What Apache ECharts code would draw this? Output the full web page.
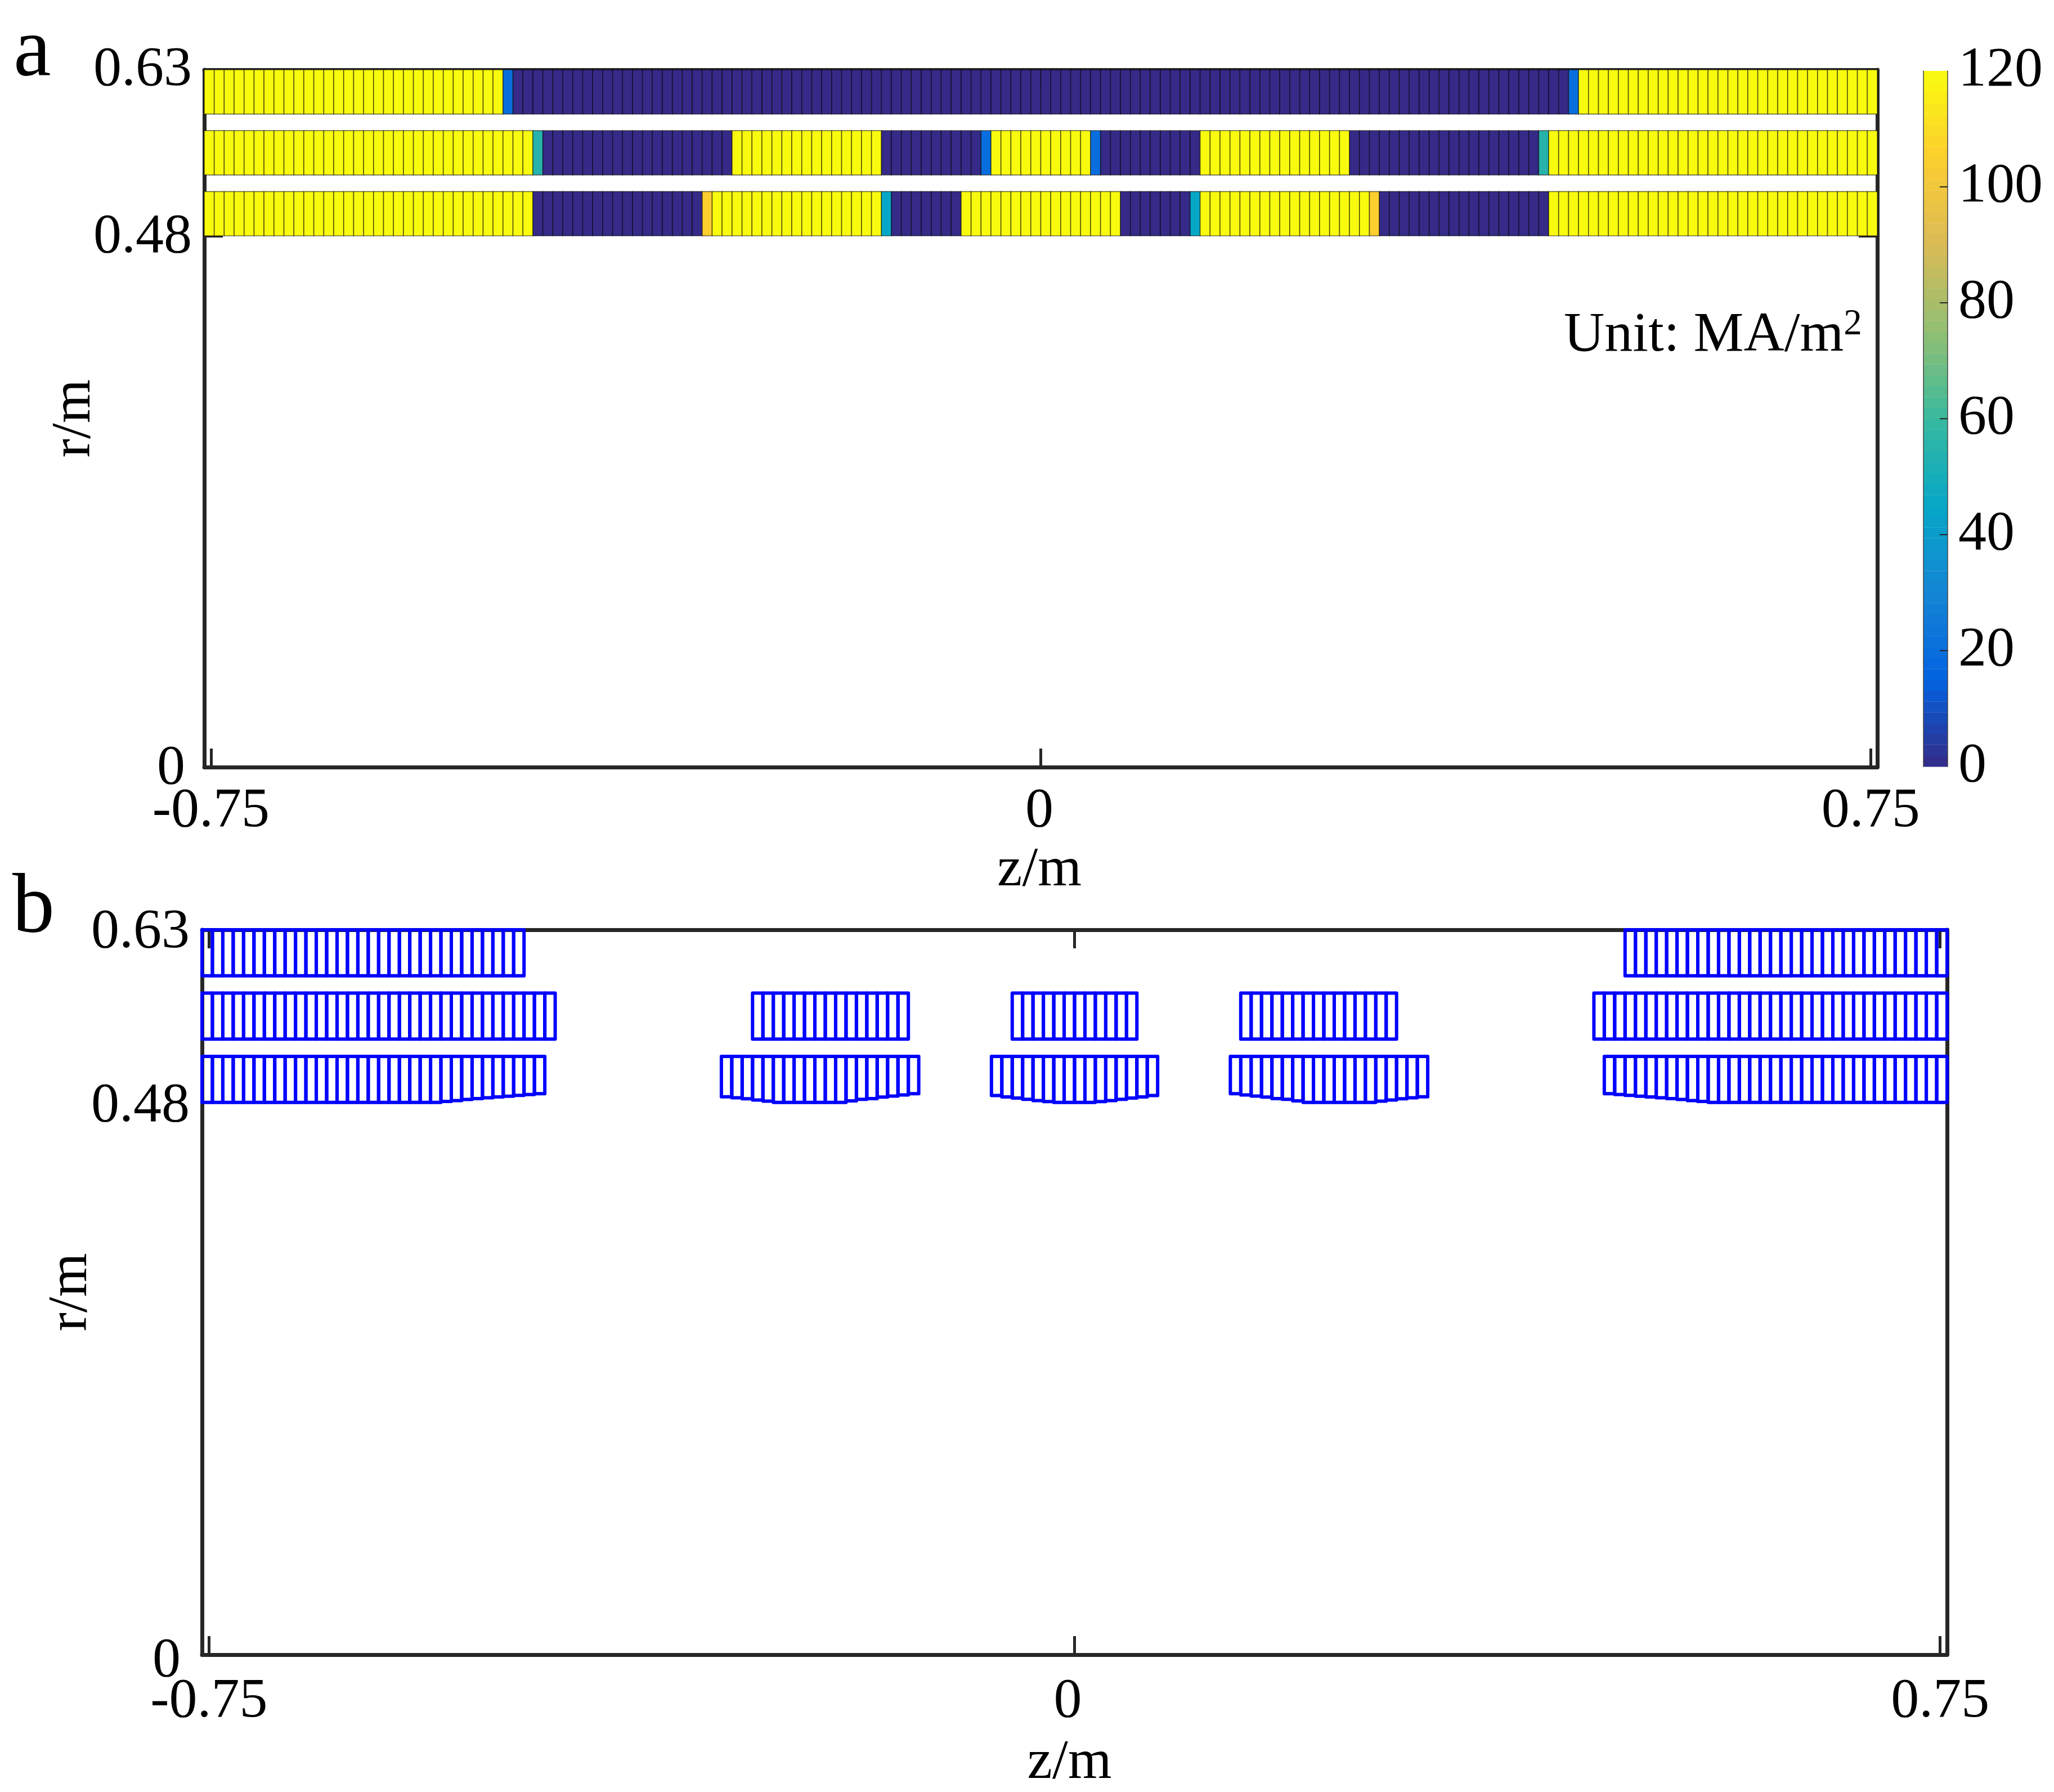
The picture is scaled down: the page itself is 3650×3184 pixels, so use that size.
<!DOCTYPE html>
<html><head><meta charset="utf-8">
<style>html,body{margin:0;padding:0;background:#fff}#c{width:3650px;height:3184px}</style>
<script src="https://cdn.jsdelivr.net/npm/echarts@6/dist/echarts.min.js"></script>
</head><body><div id="c"></div>
<script>
// Current density per conductor cell, as runs of [value, cell count], z from -0.756 m, 0.009 m per cell
var row1Runs=[[120,30],[20,1],[0,106],[20,1],[120,30]];
var row2Runs=[[120,33],[55,1],[0,19],[120,15],[0,10],[20,1],[120,10],[20,1],[0,10],[120,15],[0,19],[55,1],[120,33]];
var row3Runs=[[120,33],[0,17],[105,1],[120,17],[45,1],[0,7],[120,16],[0,7],[45,1],[120,17],[105,1],[0,17],[120,33]];
var rowTop=[0.63,0.575,0.52];
var rowBottom=[0.59,0.535,0.48];
var cellWidth=0.009, zLimit=0.756;
// Row 3 cells whose lower edge is raised, in metres above the row bottom: [cell, raise]
var row3Taper=[[23,.0008],[24,.0016],[25,.0025],[26,.0033],[27,.0040],[28,.0047],[29,.0054],[30,.0061],[31,.0068],[32,.0076],
[50,.0049],[51,.0040],[52,.0031],[53,.0020],[54,.0011],[62,.0013],[63,.0026],[64,.0033],[65,.0046],[66,.0055],[67,.0065],[68,.0076],
[76,.0059],[77,.0047],[78,.0037],[79,.0026],[80,.0016],[81,.0007],[86,.0007],[87,.0016],[88,.0026],[89,.0037],[90,.0047],[91,.0059],
[99,.0076],[100,.0065],[101,.0055],[102,.0046],[103,.0033],[104,.0026],[105,.0013],[113,.0011],[114,.0020],[115,.0031],[116,.0040],[117,.0049],
[135,.0076],[136,.0068],[137,.0061],[138,.0054],[139,.0047],[140,.0040],[141,.0033],[142,.0025],[143,.0016],[144,.0008]];
var zTicks=[-0.75,0,0.75], rTicks=[0,0.48,0.63], barTickMarks=[20,40,60,80,100];
var parula=['#352A87','#0363E1','#1485D4','#06A7C6','#38B99E','#92BF73','#D9BA56','#FCCE2E','#F9FB0E'];
var colorLevels=64;

var FONT='Liberation Serif', INK='#262626';
var taper={}; row3Taper.forEach(function(t){taper[t[0]]=t[1]});
var densityCells=[], coilCells=[];
[row1Runs,row2Runs,row3Runs].forEach(function(runs,row){
  var i=0;
  runs.forEach(function(run){
    for(var k=0;k<run[1];k++,i++){
      var z0=-zLimit+i*cellWidth, z1=z0+cellWidth;
      densityCells.push([z0,z1,rowBottom[row],rowTop[row],run[0]]);
      if(run[0]>0){
        var raise=(row===2&&taper[i])?taper[i]:0;
        coilCells.push([z0,z1,rowBottom[row]+raise,rowTop[row]]);
      }
    }
  });
});
var bands=[];
for(var b=0;b<colorLevels;b++){bands.push([120*b/colorLevels,120*(b+1)/colorLevels,120*(b+.5)/colorLevels]);}

function cellPoints(api){
  return [api.coord([api.value(0),api.value(2)]),api.coord([api.value(1),api.value(2)]),
          api.coord([api.value(1),api.value(3)]),api.coord([api.value(0),api.value(3)])];
}
function lbl(top,right){return {fontFamily:FONT,fontSize:100,color:'#000',padding:[top,right,0,0]};}
function makeX(grid,pos,labelled,name,gap,margin,zeroPad,namePad){
  var o={type:'value',gridIndex:grid,position:pos,min:-zLimit,max:zLimit,splitLine:{show:false},
    axisLine:{show:true,onZero:false,lineStyle:{color:INK,width:7}},
    axisTick:{show:true,inside:true,length:33,customValues:zTicks,lineStyle:{color:INK,width:5}},
    axisLabel:{show:labelled,customValues:zTicks,margin:margin,fontFamily:FONT,fontSize:100,color:'#000',
      rich:{zero:lbl(0,zeroPad)},
      formatter:function(v){return v===0?'{zero|0}':String(v)}}};
  if(name){o.name=name;o.nameLocation='middle';o.nameGap=gap;
    o.nameTextStyle={fontFamily:FONT,fontSize:100,color:'#000',padding:[0,namePad,0,0]};}
  return o;
}
function makeY(grid,pos,labelled,name,gap,pads){
  var o={type:'value',gridIndex:grid,position:pos,min:0,max:0.63,splitLine:{show:false},
    axisLine:{show:true,onZero:false,lineStyle:{color:INK,width:7}},
    axisTick:{show:true,inside:true,length:33,customValues:rTicks,lineStyle:{color:INK,width:5}},
    axisLabel:{show:labelled,customValues:rTicks,margin:22,fontFamily:FONT,fontSize:100,color:'#000',
      rich:pads?{zero:lbl(pads[0][0],pads[0][1]),mid:lbl(pads[1],0),top:lbl(pads[2],0)}:{},
      formatter:function(v){return v===0?'{zero|0}':v===0.48?'{mid|0.48}':'{top|0.63}'}}};
  if(name){o.name=name;o.nameLocation='middle';o.nameGap=gap;o.nameRotate=90;o.nameMoveOverlap=false;
    o.nameTextStyle={fontFamily:FONT,fontSize:100,color:'#000'};}
  return o;
}
var chart=echarts.init(document.getElementById('c'),null,{renderer:'canvas'});
chart.setOption({
  animation:false,
  backgroundColor:'#fff',
  grid:[
    {left:363,top:124,width:2973,height:1239},
    {left:359,top:1652,width:3101,height:1291},
    {left:3418,top:126,width:43,height:1236}
  ],
  xAxis:[
    makeX(0,'bottom',true,'z/m',134,29,5,5),makeX(0,'top',false),
    makeX(1,'bottom',true,'z/m',143,34,24,18),makeX(1,'top',false),
    {type:'value',gridIndex:2,min:0,max:1,show:false}
  ],
  yAxis:[
    makeY(0,'left',true,'r/m',180,[[5,12],5,2]),makeY(0,'right',false),
    makeY(1,'left',true,'r/m',182,[[24,16],14,10]),makeY(1,'right',false),
    {type:'value',gridIndex:2,position:'right',min:0,max:120,interval:20,z:5,splitLine:{show:false},
      axisLine:{show:true,onZero:false,lineStyle:{color:'#444',width:1.5}},
      axisTick:{show:true,inside:true,length:14,customValues:barTickMarks,lineStyle:{color:INK,width:2}},
      axisLabel:{margin:19,fontFamily:FONT,fontSize:100,color:'#000'}},
    {type:'value',gridIndex:2,position:'left',min:0,max:120,z:5,splitLine:{show:false},
      axisLine:{show:true,onZero:false,lineStyle:{color:'#444',width:1.5}},
      axisTick:{show:false},axisLabel:{show:false}}
  ],
  visualMap:[
    {type:'continuous',show:false,min:0,max:120,dimension:4,seriesIndex:0,inRange:{color:parula}},
    {type:'continuous',show:false,min:0,max:120,dimension:2,seriesIndex:2,inRange:{color:parula}}
  ],
  graphic:[
    {type:'text',left:24,top:20,style:{text:'a',fontFamily:FONT,fontSize:150,fill:'#000'}},
    {type:'text',left:22,top:1542,style:{text:'b',fontFamily:FONT,fontSize:150,fill:'#000'}},
    {type:'text',left:2779,top:544,style:{
      text:'{t|Unit: MA/m}{s|2}',
      rich:{t:{fontFamily:FONT,fontSize:100,fill:'#000',color:'#000'},
            s:{fontFamily:FONT,fontSize:65,fill:'#000',color:'#000',padding:[0,0,40,0]}}}}
  ],
  series:[
    {type:'custom',xAxisIndex:0,yAxisIndex:0,coordinateSystem:'cartesian2d',clip:false,z:3,
      encode:{x:[0,1],y:[2,3]},data:densityCells,progressive:0,
      renderItem:function(p,api){
        return {type:'polygon',shape:{points:cellPoints(api)},
          style:{fill:api.visual('color'),stroke:'rgba(0,0,0,0.55)',lineWidth:1.6}};
      }},
    {type:'custom',xAxisIndex:2,yAxisIndex:2,coordinateSystem:'cartesian2d',clip:false,z:3,
      encode:{x:[0,1],y:[2,3]},data:coilCells,progressive:0,
      renderItem:function(p,api){
        return {type:'polygon',shape:{points:cellPoints(api)},
          style:{fill:'none',stroke:'#0000ff',lineWidth:6,lineJoin:'round'}};
      }},
    {type:'custom',xAxisIndex:4,yAxisIndex:4,coordinateSystem:'cartesian2d',clip:false,z:1,
      encode:{y:[0,1]},data:bands,progressive:0,
      renderItem:function(p,api){
        var a=api.coord([0,api.value(0)]),c=api.coord([1,api.value(1)]);
        return {type:'rect',shape:{x:a[0],y:c[1],width:c[0]-a[0],height:a[1]-c[1]+0.4},
          style:{fill:api.visual('color')}};
      }}
  ]
});
</script>
</body></html>
